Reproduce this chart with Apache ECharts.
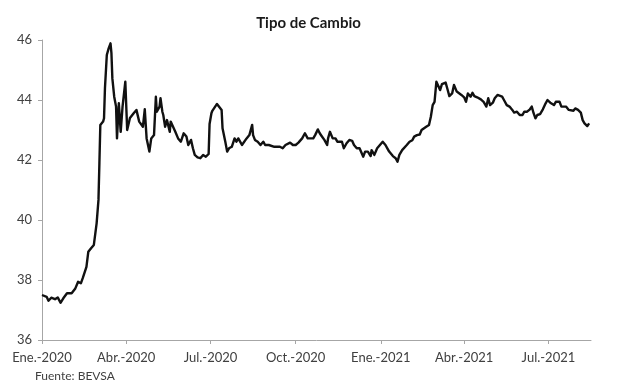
<!DOCTYPE html>
<html>
<head>
<meta charset="utf-8">
<script src="https://cdn.jsdelivr.net/npm/echarts@6/dist/echarts.min.js"></script>
<style>
html,body{margin:0;padding:0;background:#fff;}
#chart{width:617px;height:391px;}
</style>
</head>
<body>
<div id="chart"></div>
<script>
// Day offset from 2020-01-01
const days = [0,5,7,10,14,17,20,23,27,32,36,39,42,44,46,48,50,53,56,59,61,62,63,66,67,68,70,72,74,75,76,78,80,81,83,85,87,90,92,95,99,102,105,109,111,113,116,118,121,123,124,127,128,130,131,133,135,138,139,141,144,147,150,153,156,158,161,163,165,168,171,174,177,180,181,183,184,186,189,191,194,195,198,200,202,205,208,210,212,214,216,218,221,224,227,228,230,233,236,239,241,243,245,247,251,254,257,260,263,265,268,271,274,277,281,284,287,289,293,295,298,300,302,305,308,309,311,314,317,319,321,324,326,329,332,335,337,340,343,347,349,352,355,356,359,362,365,368,371,373,375,379,382,384,386,389,391,394,397,400,402,405,408,410,412,415,418,420,422,424,426,427,430,432,434,436,438,440,443,445,448,450,453,456,458,460,463,465,467,470,474,477,480,482,484,487,489,492,494,497,499,502,505,508,510,513,516,519,521,524,527,529,531,533,535,538,541,544,546,549,551,553,555,556,559,561,563,566,569,571,574,576,579,582,584,586,589,591,593];
const rates = [37.50,37.44,37.31,37.41,37.36,37.42,37.24,37.39,37.56,37.56,37.72,37.94,37.89,38.06,38.11,38.44,38.94,39.06,39.17,39.89,40.67,41.89,43.17,43.28,43.39,44.39,45.50,45.72,45.89,45.56,44.72,44.11,43.78,42.72,43.89,42.94,43.78,44.61,43.00,43.40,43.56,43.67,43.28,43.11,43.69,42.72,42.28,42.72,42.83,44.11,43.61,43.78,44.06,43.61,43.50,43.11,43.33,42.94,43.28,43.28,42.94,42.72,42.61,42.89,42.78,42.50,42.67,42.39,42.17,42.09,42.06,42.17,42.11,42.20,43.20,43.56,43.64,43.69,43.87,43.91,43.67,43.06,42.61,42.28,42.39,42.44,42.72,42.61,42.72,42.61,42.50,42.56,42.72,42.83,43.17,42.83,42.67,42.61,42.50,42.61,42.50,42.56,42.50,42.47,42.44,42.44,42.44,42.39,42.50,42.53,42.58,42.50,42.50,42.58,42.72,42.89,42.72,42.67,42.72,42.83,43.02,42.89,42.80,42.67,42.50,42.72,42.94,42.72,42.72,42.61,42.67,42.61,42.39,42.56,42.67,42.64,42.50,42.39,42.39,42.11,42.28,42.28,42.13,42.33,42.17,42.39,42.50,42.61,42.50,42.39,42.28,42.13,42.06,41.94,42.17,42.33,42.33,42.50,42.61,42.66,42.78,42.83,42.85,43.00,42.98,43.11,43.17,43.44,43.83,43.94,44.61,44.58,44.33,44.53,44.50,44.58,44.36,44.13,44.22,44.50,44.28,44.22,44.17,44.09,43.94,44.22,44.11,44.24,44.13,44.09,44.02,43.94,43.78,44.06,43.83,43.91,44.06,44.17,44.11,44.11,44.00,43.83,43.78,43.67,43.58,43.61,43.50,43.50,43.61,43.61,43.69,43.78,43.56,43.39,43.50,43.53,43.69,43.89,44.00,43.91,43.94,43.83,43.94,43.89,43.94,43.78,43.80,43.78,43.67,43.69,43.64,43.72,43.67,43.58,43.33,43.22,43.13,43.22];
const tickDays = [0,91,182,274,366,456,547];
const tickLabels = ['Ene.-2020','Abr.-2020','Jul.-2020','Oct.-2020','Ene.-2021','Abr.-2021','Jul.-2021'];
const lastDay = 593;

const font = 'Lato';
const chart = echarts.init(document.getElementById('chart'), null, {renderer:'canvas'});
chart.setOption({
  animation:false,
  backgroundColor:'#ffffff',
  title:{
    text:'Tipo de Cambio', left:'center', top:11,
    textStyle:{fontFamily:font, fontSize:15, fontWeight:'bold', color:'#1a1a1a'}
  },
  graphic:[{
    type:'text', left:35, top:370,
    style:{text:'Fuente: BEVSA', font:'12px Lato', fill:'#404040'}
  }],
  grid:{left:42, right:26, top:40, bottom:51},
  xAxis:{
    type:'value', min:0, max:lastDay,
    splitLine:{show:false},
    axisLine:{show:true, lineStyle:{color:'#a6a6a6', width:1}},
    axisTick:{show:true, length:4, customValues:tickDays, lineStyle:{color:'#a6a6a6'}},
    axisLabel:{
      customValues:tickDays, margin:11,
      formatter:function(v){ const i = tickDays.indexOf(v); return i>=0 ? tickLabels[i] : ''; },
      fontFamily:font, fontSize:13, color:'#404040'
    }
  },
  yAxis:{
    type:'value', min:36, max:46, interval:2,
    splitLine:{show:false},
    axisLine:{show:true, lineStyle:{color:'#a6a6a6', width:1}},
    axisTick:{show:true, length:4, lineStyle:{color:'#a6a6a6'}},
    axisLabel:{margin:10, fontFamily:font, fontSize:13, color:'#404040'}
  },
  series:[{
    type:'line',
    data: days.map(function(d,i){ return [d, rates[i]]; }),
    showSymbol:false,
    lineStyle:{color:'#111111', width:2.4, join:'round'},
    itemStyle:{color:'#111111'}
  }]
});
</script>
</body>
</html>
